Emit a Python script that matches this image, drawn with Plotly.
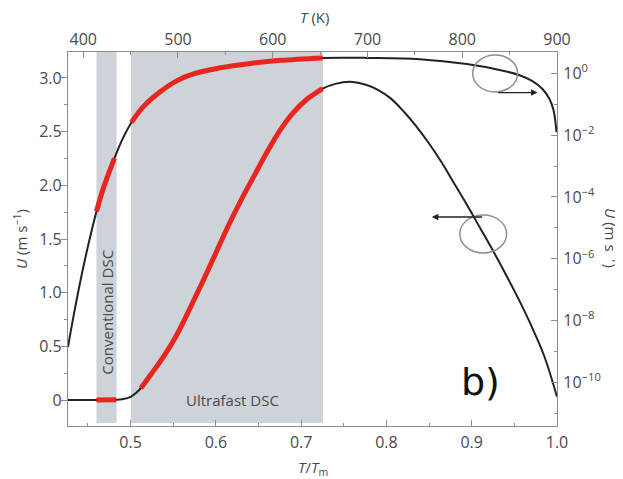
import numpy as np
import plotly.graph_objects as go

TM = 900  # melting temperature, K

# Upper curve: U on log scale (right axis) vs T/Tm
t_log = [0.4266, 0.4333, 0.4415, 0.4509, 0.460, 0.4684, 0.481, 0.4906, 0.501, 0.5152,
         0.5351, 0.555, 0.5737, 0.6053, 0.6404, 0.6754, 0.725, 0.7784, 0.8392, 0.8942,
         0.9327, 0.9561, 0.9713, 0.983, 0.9912, 0.9959, 0.9982, 0.9994]
u_log = [1.38e-9, 1.5e-8, 2.14e-7, 3.24e-6, 3.4e-5, 2.04e-4, 1.78e-3, 7.6e-3, 2.57e-2, 8.5e-2,
         0.257, 0.59, 0.955, 1.51, 2.09, 2.63, 3.16, 3.16, 2.88, 2.0,
         1.29, 0.87, 0.56, 0.31, 0.148, 0.065, 0.026, 0.0126]

# Lower curve: U on linear scale (left axis) vs T/Tm
t_lin = [0.4266, 0.46, 0.483, 0.49, 0.5, 0.512, 0.524, 0.540, 0.555, 0.570, 0.585,
         0.600, 0.615, 0.630, 0.645, 0.660, 0.675, 0.690, 0.705, 0.725, 0.740, 0.757,
         0.775, 0.790, 0.805, 0.820, 0.835, 0.850, 0.865, 0.880, 0.895, 0.910,
         0.925, 0.940, 0.955, 0.970, 0.985, 1.0]
u_lin = [0, 0, 0.003, 0.008, 0.03, 0.11, 0.24, 0.42, 0.62, 0.86, 1.11,
         1.37, 1.63, 1.87, 2.09, 2.31, 2.51, 2.67, 2.79, 2.90, 2.945, 2.965,
         2.94, 2.89, 2.81, 2.69, 2.55, 2.39, 2.21, 2.01, 1.81, 1.60,
         1.39, 1.17, 0.94, 0.69, 0.41, 0.03]

# Measurement windows (T/Tm)
conv_dsc = (0.460, 0.4836)
ultra_dsc = (0.5005, 0.7257)

# Axis ticks
x_ticks = [0.5, 0.6, 0.7, 0.8, 0.9, 1.0]
t_ticks = [400, 500, 600, 700, 800, 900]
y_ticks = [0, 0.5, 1.0, 1.5, 2.0, 2.5, 3.0]
y_ticklabels = ["0", "0.5", "1.0", "1.5", "2.0", "2.5", "3.0"]
log_exps = [0, -2, -4, -6, -8, -10]

X_RANGE = [0.4266, 1.0]
Y_RANGE = [-0.242, 3.242]
LOG_RANGE = [-11.41, 0.69]

BLACK = "#222222"
RED = "#e8251e"
BAND = "#cdd3d8"
AXC = "#8c8c8c"
TXT = "#4a4a4a"
FONT = "Open Sans"

t_log_a, u_log_a = np.array(t_log), np.array(u_log)
t_lin_a, u_lin_a = np.array(t_lin), np.array(u_lin)

fig = go.Figure()

# full curves
fig.add_trace(go.Scatter(x=t_log_a * TM, y=u_log_a, xaxis="x2", yaxis="y2", mode="lines",
                         line=dict(color=BLACK, width=2, shape="spline", smoothing=1.0),
                         hoverinfo="skip", showlegend=False))
fig.add_trace(go.Scatter(x=t_lin_a, y=u_lin_a, mode="lines",
                         line=dict(color=BLACK, width=2, shape="spline", smoothing=1.0),
                         hoverinfo="skip", showlegend=False))

# red highlighted parts (measured ranges)
for lo, hi in (conv_dsc, ultra_dsc):
    m = (t_log_a >= lo - 1e-6) & (t_log_a <= hi + 1e-6)
    fig.add_trace(go.Scatter(x=t_log_a[m] * TM, y=u_log_a[m], xaxis="x2", yaxis="y2", mode="lines",
                             line=dict(color=RED, width=5, shape="spline", smoothing=1.0),
                             hoverinfo="skip", showlegend=False))
    m = (t_lin_a >= lo - 1e-6) & (t_lin_a <= hi + 1e-6)
    fig.add_trace(go.Scatter(x=t_lin_a[m], y=u_lin_a[m], mode="lines",
                             line=dict(color=RED, width=5, shape="spline", smoothing=1.0),
                             hoverinfo="skip", showlegend=False))

shapes = []
for lo, hi in (conv_dsc, ultra_dsc):
    shapes.append(dict(type="rect", xref="x", yref="paper", x0=lo, x1=hi, y0=0.008, y1=1,
                       fillcolor=BAND, line=dict(width=0), layer="below"))
# circles marking which axis each curve uses
shapes.append(dict(type="circle", xref="x", yref="y", x0=0.9012, x1=0.9538, y0=2.870, y1=3.215,
                   line=dict(color="#8f8f8f", width=1.5)))
shapes.append(dict(type="circle", xref="x", yref="y", x0=0.8860, x1=0.9409, y0=1.370, y1=1.724,
                   line=dict(color="#8f8f8f", width=1.5)))

title_font = dict(family=FONT, size=15, color=TXT)
annotations = [
    dict(x=0.9772, y=2.864, ax=0.9292, ay=2.864, xref="x", yref="y", axref="x", ayref="y",
         text="", showarrow=True, arrowhead=2, arrowsize=1, arrowwidth=1.3, arrowcolor=BLACK),
    dict(x=0.8532, y=1.705, ax=0.9140, ay=1.705, xref="x", yref="y", axref="x", ayref="y",
         text="", showarrow=True, arrowhead=2, arrowsize=1, arrowwidth=1.3, arrowcolor=BLACK),
    dict(x=0.4719, y=0.82, xref="x", yref="y", text="Conventional DSC", textangle=-90,
         xanchor="center", yanchor="middle", showarrow=False, font=title_font),
    dict(x=0.6194, y=0.0, xref="x", yref="y", text="Ultrafast DSC",
         xanchor="center", yanchor="middle", showarrow=False, font=title_font),
    dict(x=0.9098, y=0.168, xref="x", yref="y", text="b)",
         xanchor="center", yanchor="middle", showarrow=False,
         font=dict(family="DejaVu Sans", size=38, color="#111111")),
    dict(x=-0.098, y=0.5, xref="paper", yref="paper", text="<i>U</i> (m s<sup>−1</sup>)",
         textangle=-90, xanchor="center", yanchor="middle", showarrow=False, font=title_font),
    dict(x=1.112, y=0.503, xref="paper", yref="paper", text="<i>U</i> (m s<sup>−1</sup>)",
         textangle=90, xanchor="center", yanchor="middle", showarrow=False, font=title_font),
    dict(x=0.505, y=1.094, xref="paper", yref="paper", text="<i>T</i> (K)",
         xanchor="center", yanchor="middle", showarrow=False, font=title_font),
    dict(x=0.501, y=-0.111, xref="paper", yref="paper", text="<i>T</i>/<i>T</i><sub>m</sub>",
         xanchor="center", yanchor="middle", showarrow=False, font=title_font),
]

axis_common = dict(showgrid=False, zeroline=False, showline=True, linecolor=AXC, linewidth=1.2,
                   tickcolor=AXC, tickwidth=1.2, ticklen=6,
                   tickfont=dict(family=FONT, size=16, color=TXT))

# The page body has an 8px default margin, so the figure is sized and padded to fit the window.
fig.update_layout(
    width=615, height=471,
    margin=dict(l=60, r=66, t=44, b=53),
    paper_bgcolor="white", plot_bgcolor="white",
    showlegend=False,
    shapes=shapes, annotations=annotations,
    xaxis=dict(range=X_RANGE, tickvals=x_ticks, tickformat=".1f", ticks="inside",
               ticklabelstandoff=2,
               minor=dict(dtick=0.05, ticks="inside", ticklen=3, tickcolor=AXC),
               **axis_common),
    xaxis2=dict(range=[X_RANGE[0] * TM, X_RANGE[1] * TM], overlaying="x", side="top", anchor="y",
                tickvals=t_ticks, ticks="inside",
                minor=dict(dtick=50, ticks="inside", ticklen=3, tickcolor=AXC),
                **axis_common),
    yaxis=dict(range=Y_RANGE, tickvals=y_ticks, ticktext=y_ticklabels, ticks="outside",
               ticklabelstandoff=-4,
               minor=dict(dtick=0.25, ticks="outside", ticklen=3, tickcolor=AXC),
               **axis_common),
    yaxis2=dict(type="log", range=LOG_RANGE, overlaying="y", side="right", anchor="x",
                tickvals=[10.0 ** e for e in log_exps],
                ticktext=["10<sup>%s</sup>" % (str(e).replace("-", "−")) for e in log_exps],
                ticks="inside", ticklabelstandoff=2,
                minor=dict(tickvals=[10.0 ** (e - 1) for e in log_exps], ticks="inside",
                           ticklen=3, tickcolor=AXC),
                **axis_common),
)

fig.write_html("out.html")
